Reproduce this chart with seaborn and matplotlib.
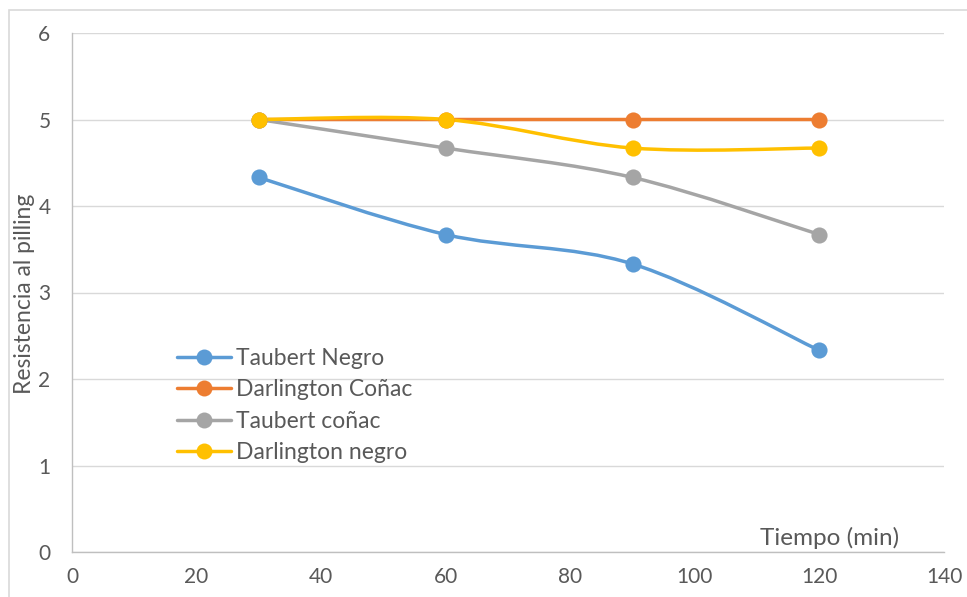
import numpy as np
import pandas as pd
import seaborn as sns
import matplotlib
matplotlib.use("Agg")
import matplotlib.pyplot as plt
from matplotlib.path import Path
from matplotlib.patches import PathPatch, Rectangle
from matplotlib.lines import Line2D

# Pilling resistance versus abrasion time
tiempo = [30, 60, 90, 120]
taubert_negro = [4.33, 3.67, 3.33, 2.33]
darlington_conac = [5, 5, 5, 5]
taubert_conac = [5, 4.67, 4.33, 3.67]
darlington_negro = [5, 5, 4.67, 4.67]

series_names = ["Taubert Negro", "Darlington Coñac", "Taubert coñac", "Darlington negro"]
series_values = [taubert_negro, darlington_conac, taubert_conac, darlington_negro]
colors = ["#5B9BD5", "#ED7D31", "#A5A5A5", "#FFC000"]

x_ticks = [0, 20, 40, 60, 80, 100, 120, 140]
y_ticks = [0, 1, 2, 3, 4, 5, 6]

df = pd.DataFrame({
    "Tiempo": tiempo * len(series_names),
    "Valor": sum(series_values, []),
    "Serie": np.repeat(series_names, len(tiempo)),
})

sns.set_theme(style="white")
plt.rcParams["font.family"] = ["Lato", "DejaVu Sans"]
text_color = "#595959"

fig = plt.figure(figsize=(9.67, 5.97), dpi=100)
ax = fig.add_axes([72 / 967, 1 - 552 / 597, 872 / 967, 519 / 597])


def smooth_path(xs, ys):
    """Cubic Bezier path through the points (Catmull-Rom style tangents)."""
    pts = np.column_stack([xs, ys]).astype(float)
    n = len(pts)
    verts = [pts[0]]
    codes = [Path.MOVETO]
    for i in range(n - 1):
        p0 = pts[i - 1] if i > 0 else pts[i]
        p1 = pts[i]
        p2 = pts[i + 1]
        p3 = pts[i + 2] if i + 2 < n else pts[i + 1]
        c1 = p1 + (p2 - p0) / 6.0
        c2 = p2 - (p3 - p1) / 6.0
        verts += [c1, c2, p2]
        codes += [Path.CURVE4] * 3
    return Path(verts, codes)


for name, color in zip(series_names, colors):
    sub = df[df["Serie"] == name]
    patch = PathPatch(smooth_path(sub["Tiempo"], sub["Valor"]), facecolor="none",
                      edgecolor=color, lw=2.5, capstyle="round", joinstyle="round", zorder=3)
    ax.add_patch(patch)
    sns.scatterplot(data=sub, x="Tiempo", y="Valor", color=color, s=135,
                    edgecolor=color, linewidth=0, ax=ax, zorder=4, legend=False)

ax.set_xlim(0, 140)
ax.set_ylim(0, 6)
ax.set_xticks(x_ticks)
ax.set_yticks(y_ticks)
ax.grid(axis="y", color="#D9D9D9", lw=1.0)
ax.grid(axis="x", visible=False)
ax.set_axisbelow(True)
for side in ["top", "right"]:
    ax.spines[side].set_visible(False)
for side in ["left", "bottom"]:
    ax.spines[side].set_color("#BFBFBF")
    ax.spines[side].set_linewidth(1.0)
ax.tick_params(axis="both", direction="out", length=5, width=1.0, color="#BFBFBF",
               labelcolor=text_color, labelsize=15, pad=6)
ax.tick_params(axis="y", pad=10.5)

ax.set_xlabel("Tiempo (min)", fontsize=17.5, color=text_color)
ax.xaxis.set_label_coords((830 - 72) / 872, (552 - 538) / 519)
ax.xaxis.label.set_verticalalignment("center")
ax.set_ylabel("Resistencia al pilling", fontsize=16.5, color=text_color)
ax.yaxis.set_label_coords((25 - 72) / 872, 0.497)
ax.yaxis.label.set_verticalalignment("center")

handles = [Line2D([], [], color=c, lw=2.5, marker="o", markersize=11.5,
                  markeredgewidth=0) for c in colors]
ax.legend(handles, series_names, loc="upper left",
          bbox_to_anchor=(177 / 967, 1 - 348 / 597), bbox_transform=fig.transFigure,
          frameon=False, fontsize=16.5, labelcolor=text_color, handlelength=2.35,
          handletextpad=0.23, labelspacing=0.45, borderaxespad=0, borderpad=0)

fig.add_artist(Rectangle((9 / 967, -0.1), 1.2, 1 - 10 / 597 + 0.1,
                         transform=fig.transFigure, facecolor="none",
                         edgecolor="#D9D9D9", lw=1.2))

fig.savefig("out.png", dpi=100)
